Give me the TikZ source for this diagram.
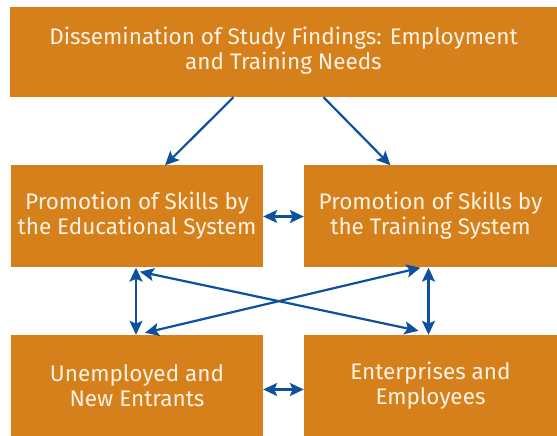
\documentclass[tikz,border=0pt]{standalone}
\usepackage{fontspec}
\setmainfont{Fira Sans}
\usetikzlibrary{arrows.meta}
\definecolor{boxorange}{RGB}{214,128,28}
\definecolor{arrowblue}{RGB}{14,80,160}
\definecolor{boxtext}{RGB}{253,242,228}

\begin{document}
\begin{tikzpicture}[x=1pt, y=1pt,
	box/.style={fill=boxorange, text=boxtext, align=center, inner sep=0pt, font=\fontsize{22.5}{24.5}\selectfont},
	link/.style={draw=arrowblue, line width=2.2pt, -{Stealth[length=14pt, width=13pt, inset=3pt]}},
	twoway/.style={draw=arrowblue, line width=2.2pt, {Stealth[length=14pt, width=13pt, inset=3pt]}-{Stealth[length=14pt, width=13pt, inset=3pt]}}]
	\useasboundingbox (0,0) rectangle (557,436);
	\node[box, minimum width=547pt, minimum height=90pt] (DSF)at(283.5, 384) {\raisebox{5pt}{\begin{tabular}{c}Dissemination of Study Findings: Employment\\and Training Needs\end{tabular}}};
	\node[box, minimum width=252pt, minimum height=102pt] (PSE)at(137, 219.5) {\raisebox{3pt}{\begin{tabular}{c}Promotion of Skills by\\the Educational System\end{tabular}}};
	\node[box, minimum width=253pt, minimum height=102pt] (PST)at(430.5, 219.5) {\raisebox{3pt}{\begin{tabular}{c}Promotion of Skills by\\the Training System\end{tabular}}};
	\node[box, minimum width=252pt, minimum height=101pt] (UNE)at(137, 50.5) {Unemployed and\\New Entrants};
	\node[box, minimum width=253pt, minimum height=101pt] (EE)at(430.5, 50.5) {Enterprises and\\Employees};
	\draw[link] ([xshift=-50pt]DSF.south) -- ([xshift=28pt]PSE.north);
	\draw[link] ([xshift=40pt]DSF.south) -- ([xshift=-40pt]PST.north);
	\draw[twoway] (PSE.east) -- (PST.west);
	\draw[twoway] ([yshift=-4pt]UNE.east) -- ([yshift=-4pt]EE.west);
	\draw[twoway] ([xshift=-1pt]PSE.south) -- ([xshift=-1pt]UNE.north);
	\draw[twoway] ([xshift=-2pt]PST.south) -- ([xshift=-2pt]EE.north);
	\draw[twoway] ([xshift=3pt, yshift=-4pt]PSE.south) -- ([xshift=-12pt, yshift=4pt]EE.north);
	\draw[twoway] ([xshift=-10pt]PST.south) -- ([xshift=8pt, yshift=2pt]UNE.north);
\end{tikzpicture}
\end{document}
